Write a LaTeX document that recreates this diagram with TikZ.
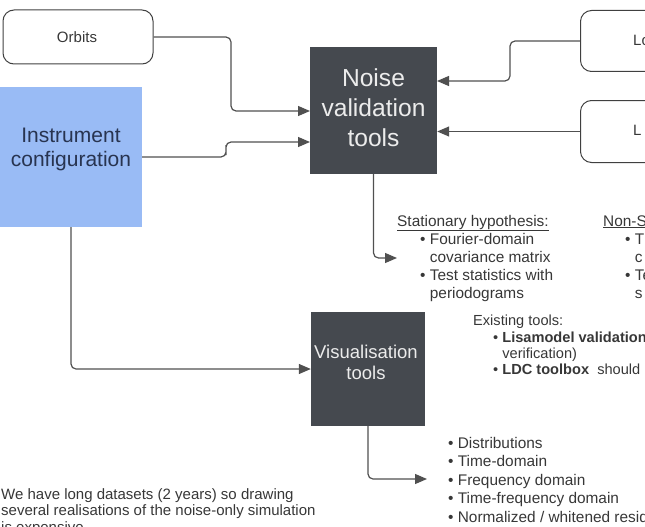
\documentclass[tikz,border=0pt]{standalone}
\usepackage{fontspec}
\setmainfont{Liberation Sans}
\usetikzlibrary{arrows.meta}

\definecolor{linegray}{RGB}{80,80,80}
\definecolor{textgray}{RGB}{55,55,55}
\definecolor{darkbox}{RGB}{69,73,79}
\definecolor{boxtext}{RGB}{236,236,236}
\definecolor{configblue}{RGB}{153,187,245}
\definecolor{configtext}{RGB}{40,52,80}

% lines of a note, hung from the baseline of the first one
\newcommand{\notelines}[1]{\begin{tabular}[t]{@{}l@{}}#1\end{tabular}}

\begin{document}
\begin{tikzpicture}[x=1pt, y=-1pt,
    roundbox/.style={draw=black!75, line width=1pt, rounded corners=11pt, inner sep=0pt},
    toolbox/.style={fill=darkbox, inner sep=0pt},
    link/.style={draw=linegray, line width=1.2pt, rounded corners=5pt,
                 -{Triangle[length=12pt, width=10pt]}},
    notes/.style={text=textgray, inner sep=0pt, anchor=base west}]

    \useasboundingbox (0,0) rectangle (645,527);
    \clip (0,0) rectangle (645,527);

    %% Inputs

    % Orbits
    \node[roundbox, minimum width=150pt, minimum height=54pt] (orbits) at (78,37) {};
    \node[text=textgray, font=\fontsize{15}{18}\selectfont] (orbitslabel) at (77,37.5) {Orbits};

    % Instrument configuration
    \node[fill=configblue, inner sep=0pt, minimum width=142pt, minimum height=140pt] (config) at (71,157) {};
    \node[text=configtext, align=center, inner sep=0pt,
          font=\fontsize{21}{24}\selectfont] (configlabel) at (71,149) {Instrument\\configuration};

    % Boxes on the right
    \node[roundbox, anchor=north west, minimum width=140pt, minimum height=61pt] (ltop) at (580,10) {};
    \node[text=textgray, anchor=base west, inner sep=0pt, font=\fontsize{15}{18}\selectfont] (ltoplabel) at (633,45.5) {Lo};
    \node[roundbox, anchor=north west, minimum width=140pt, minimum height=62pt] (lbot) at (580,100) {};
    \node[text=textgray, anchor=base west, inner sep=0pt, font=\fontsize{15}{18}\selectfont] (lbotlabel) at (633,135.5) {L};

    %% Tools

    % Noise validation
    \node[toolbox, minimum width=127pt, minimum height=127pt] (noise) at (373.5,110.5) {};
    \node[text=boxtext, align=center, inner sep=0pt,
          font=\fontsize{24.6}{30}\selectfont] (noiselabel) at (373.5,107.5) {Noise\\validation\\tools};

    % Visualisation
    \node[toolbox, minimum width=114pt, minimum height=114pt] (vis) at (368,369) {};
    \node[text=boxtext, align=center, inner sep=0pt,
          font=\fontsize{18.5}{21}\selectfont] (vislabel) at (366,362.5) {Visualisation\\tools};

    %% Connectors
    \coordinate (noise-in1) at (310,111);
    \coordinate (noise-in2) at (310,142);
    \coordinate (noise-in3) at (437,81);
    \coordinate (stat-in) at (397,258);
    \coordinate (plots-in) at (427,479);

    \draw[link] (orbits.east) -| (231,74) |- (noise-in1);
    \draw[link] (config.east) -| (226,150) |- (noise-in2);
    \draw[link] (ltop.west) -| (510,60) |- (noise-in3);
    \draw[link] (lbot.west) -- (noise.east |- lbot.west);
    \draw[link] (noise.south) |- (stat-in);
    \draw[link] (config.south) |- (vis.west);
    \draw[link] (vis.south) |- (plots-in);

    %% Notes

    % Stationary / non-stationary
    \node[notes, font=\fontsize{15.4}{18}\selectfont] (stathead) at (397,226) {\underline{Stationary hypothesis:}};
    \node[notes, font=\fontsize{15.4}{18}\selectfont] (statlist) at (420,244)
        {\notelines{\textbullet\ Fourier-domain\\\phantom{\textbullet\ }covariance matrix\\
         \textbullet\ Test statistics with\\\phantom{\textbullet\ }periodograms}};
    \node[notes, font=\fontsize{15.4}{18}\selectfont] (nonstathead) at (603,226) {\underline{Non-S}};
    \node[notes, font=\fontsize{15.4}{18}\selectfont] (nonstatlist) at (625,244)
        {\notelines{\textbullet\ T\\\phantom{\textbullet\ }c\\\textbullet\ Te\\\phantom{\textbullet\ }s}};

    % Existing tools
    \node[notes, font=\fontsize{14.6}{16}\selectfont] (existhead) at (473,325) {Existing tools:};
    \node[notes, font=\fontsize{14.6}{16}\selectfont] (existlist) at (493,342)
        {\notelines{\textbullet\ \textbf{Lisamodel validation}\\\phantom{\textbullet\ }verification)\\
         \textbullet\ \textbf{LDC toolbox}\ \ should}};

    % Plots
    \node[notes, font=\fontsize{15.4}{18.5}\selectfont] (plotlist) at (448,448)
        {\notelines{\textbullet\ Distributions\\\textbullet\ Time-domain\\\textbullet\ Frequency domain\\
         \textbullet\ Time-frequency domain\\\textbullet\ Normalized / whitened residuals}};

    % Remark on cost
    \node[notes, font=\fontsize{15}{16.5}\selectfont] (remark) at (1,499)
        {\notelines{We have long datasets (2 years) so drawing\\several realisations of the noise-only simulation\\is expensive}};

\end{tikzpicture}
\end{document}
